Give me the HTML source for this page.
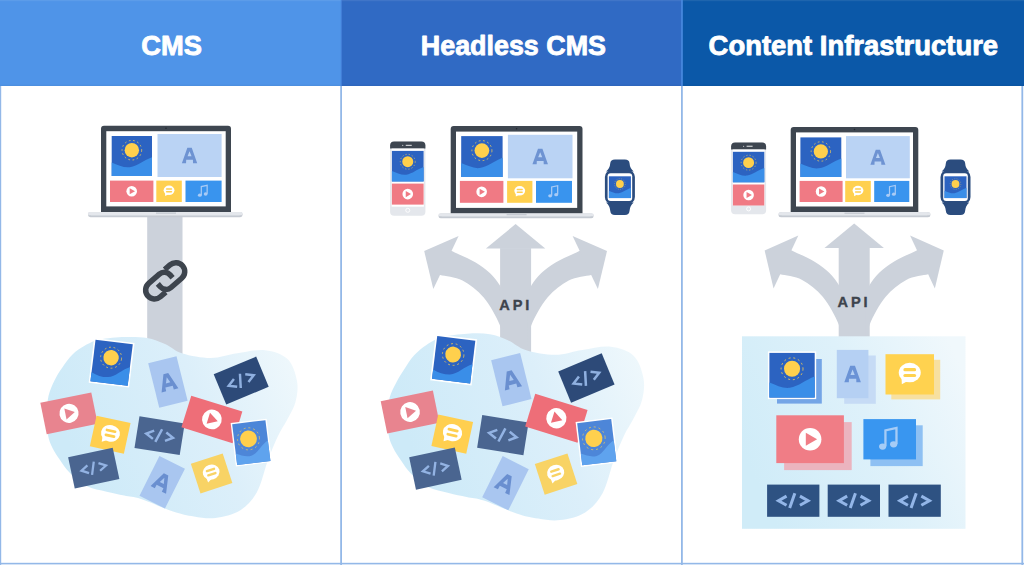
<!DOCTYPE html>
<html><head><meta charset="utf-8"><title>CMS vs Headless CMS vs Content Infrastructure</title>
<style>html,body{margin:0;padding:0;background:#fff;overflow:hidden}svg{display:block}#wrap{width:1024px;height:565px;overflow:hidden}</style></head>
<body><div id="wrap"><svg width="1024" height="565" viewBox="0 0 1024 565">
<defs>
<linearGradient id="blobg" x1="0" y1="0.3" x2="1" y2="0">
<stop offset="0" stop-color="#CDEAF8"/><stop offset="0.55" stop-color="#DCEFFA"/><stop offset="1" stop-color="#F1F9FC"/></linearGradient>
<linearGradient id="boxg" x1="0" y1="0.6" x2="1" y2="0.2">
<stop offset="0" stop-color="#D0ECF8"/><stop offset="0.55" stop-color="#DEF1FA"/><stop offset="1" stop-color="#F0F8FC"/></linearGradient>
</defs><rect width="1024" height="565" fill="#fff"/><rect x="0" y="0" width="341" height="86" fill="#4F94E8"/><rect x="341" y="0" width="341" height="86" fill="#306AC4"/><rect x="682" y="0" width="342" height="86" fill="#0B58A8"/><rect x="0" y="0" width="1024" height="1.2" fill="#fff" opacity="0.08"/><rect x="0" y="84.6" width="1024" height="1.3" fill="#000" opacity="0.035"/><rect x="340.6" y="0" width="1.4" height="86" fill="#4A87DF" opacity="0.7"/><rect x="681.2" y="0" width="1.6" height="86" fill="#4A8AE0"/><text x="141.3" y="55.3" font-size="28.4" font-family="&apos;Liberation Sans&apos;, sans-serif" font-weight="bold" fill="#fff" stroke="#fff" stroke-width="0.9" stroke-linejoin="round" textLength="60.6" lengthAdjust="spacingAndGlyphs">CMS</text><text x="420.8" y="55.2" font-size="28.4" font-family="&apos;Liberation Sans&apos;, sans-serif" font-weight="bold" fill="#fff" stroke="#fff" stroke-width="0.9" stroke-linejoin="round" textLength="185.2" lengthAdjust="spacingAndGlyphs">Headless CMS</text><text x="708.6" y="55.0" font-size="28.4" font-family="&apos;Liberation Sans&apos;, sans-serif" font-weight="bold" fill="#fff" stroke="#fff" stroke-width="0.9" stroke-linejoin="round" textLength="289.5" lengthAdjust="spacingAndGlyphs">Content Infrastructure</text><rect x="147.2" y="216" width="35.3" height="140" fill="#CCD2DB"/><path d="M101,212.4 L101,128.7 Q101,125.7 104,125.7 L228,125.7 Q231,125.7 231,128.7 L231,212.4 Z" fill="#3E4650"/><rect x="106.3" y="131.2" width="119.4" height="75.2" fill="#fff"/><rect x="88" y="212.1" width="154.6" height="5.2" rx="2.45" fill="#C5CAD2"/><rect x="88" y="212.1" width="154.6" height="3.2" rx="1.6" fill="#E4E7EC"/><rect x="91" y="212.1" width="148.6" height="3.2" fill="#E4E7EC"/><rect x="156" y="212.4" width="20" height="1.4" fill="#C5CAD2"/><circle cx="166" cy="128.3" r="0.8" fill="#22282f"/><g transform="translate(111.7,136)"><rect width="40.3" height="40" fill="#2C63C1"/><path d="M0,26.4 C6.04,28.8 12.09,32 18.13,31.2 C26.2,30 32.24,24 40.3,21.2 L40.3,40 L0,40 Z" fill="#3A8EE8"/><circle cx="20.15" cy="14.2" r="7.2" fill="#FFD04D"/><circle cx="20.15" cy="14.2" r="9.8" fill="none" stroke="#FFD04D" stroke-width="0.76" stroke-dasharray="1.71 2.57"/></g><g transform="translate(157.5,134)"><rect width="64.1" height="43" fill="#BAD3F4"/><path d="M24.39,29.16 L29.86,13.84 L34.24,13.84 L39.71,29.16 L35.53,29.16 L35.42,25.79 L28.68,25.79 L28.57,29.16 Z M30.06,22.27 L34.04,22.27 L32.05,17.21 Z" fill="#6E93D2" fill-rule="evenodd"/></g><g transform="translate(110,180.6)"><rect width="43.4" height="21.4" fill="#F07A84"/><circle cx="21.7" cy="10.7" r="5.3" fill="#fff"/><path d="M19.69,7.63 L24.99,10.7 L19.69,13.77 Z" fill="#F07A84"/></g><g transform="translate(156.3,180.6)"><rect width="25.5" height="21.4" fill="#FFD04F"/><ellipse cx="12.75" cy="9.74" rx="5.4" ry="4.75" fill="#fff"/><path d="M8.7,11.64 L8.86,15.44 L11.94,13.78 Z" fill="#fff"/><rect x="9.62" y="7.55" width="6.26" height="1.52" rx="0.76" fill="#FFD04F"/><rect x="9.62" y="10.4" width="6.26" height="1.52" rx="0.76" fill="#FFD04F"/></g><g transform="translate(185.5,180.6)"><rect width="36.1" height="21.4" fill="#3994EE"/><ellipse cx="14.3" cy="14.59" rx="1.92" ry="1.65" fill="#A9CBF5"/><ellipse cx="20.15" cy="13.41" rx="1.92" ry="1.65" fill="#A9CBF5"/><path d="M15.79,14.37 L15.79,5.96 L21.64,4.68 L21.64,13.2" fill="none" stroke="#A9CBF5" stroke-width="1.22" stroke-linejoin="miter"/></g><g transform="translate(165.2,280.8) rotate(-41)" fill="none" stroke="#3D444D" stroke-width="5.5"><path d="M-7,8.9 L-14.1,8.9 A8.9,8.9 0 0 1 -23,0 L-23,0 A8.9,8.9 0 0 1 -14.1,-8.9 L0,-8.9 A7.6,7.6 0 0 1 7.6,-1.3 L7.6,2.5"/><path d="M-7,8.9 L-14.1,8.9 A8.9,8.9 0 0 1 -23,0 L-23,0 A8.9,8.9 0 0 1 -14.1,-8.9 L0,-8.9 A7.6,7.6 0 0 1 7.6,-1.3 L7.6,2.5" transform="rotate(180)"/></g><path d="M48.5,396 C49.75,390.42 52.25,385.17 54.5,380.5 C56.75,375.83 59,372.33 62,368 C65,363.67 68.67,358.25 72.5,354.5 C76.33,350.75 80.42,348 85,345.5 C89.58,343 93.33,340.92 100,339.5 C106.67,338.08 117.17,337.25 125,337 C132.83,336.75 140.33,336.83 147,338 C153.67,339.17 159.08,341.42 165,344 C170.92,346.58 174.87,351.17 182.5,353.5 C190.13,355.83 201.67,358.03 210.8,358 C219.93,357.97 228.27,354.6 237.3,353.3 C246.33,352 256.63,349.25 265,350.2 C273.37,351.15 282.17,353.87 287.5,359 C292.83,364.13 295.67,373.83 297,381 C298.33,388.17 297.17,395.5 295.5,402 C293.83,408.5 289.92,414.33 287,420 C284.08,425.67 281.17,429.33 278,436 C274.83,442.67 271.5,450.67 268,460 C264.5,469.33 261.67,483.58 257,492 C252.33,500.42 246.92,506.17 240,510.5 C233.08,514.83 223.17,517 215.5,518 C207.83,519 201.08,517.58 194,516.5 C186.92,515.42 181.83,514.42 173,511.5 C164.17,508.58 149.13,501.65 141,499 C132.87,496.35 129.92,496.82 124.2,495.6 C118.48,494.38 112.98,493.3 106.7,491.7 C100.42,490.1 92.62,489.12 86.5,486 C80.38,482.88 74.42,477.33 70,473 C65.58,468.67 62.92,464.17 60,460 C57.08,455.83 54.5,452.17 52.5,448 C50.5,443.83 48.92,440.67 48,435 C47.08,429.33 46.92,420.5 47,414 C47.08,407.5 47.25,401.58 48.5,396 Z" fill="url(#blobg)"/><g transform="translate(111.6,362.8) rotate(7) translate(-18.75,-20.9)"><rect x="-1.6" y="-1.6" width="40.7" height="45" fill="#fff"/><rect width="37.5" height="41.8" fill="#2C63C1"/><path d="M0,32.6 C5.62,35.11 11.25,36.37 16.88,35.53 C24.38,34.28 30,25.92 37.5,22.99 L37.5,41.8 L0,41.8 Z" fill="#3A8EE8"/><circle cx="17.62" cy="15.88" r="7.69" fill="#FFD04D"/><circle cx="17.62" cy="15.88" r="10.5" fill="none" stroke="#FFD04D" stroke-width="0.71" stroke-dasharray="1.83 2.75"/></g><g transform="translate(167.9,382) rotate(-14) translate(-14.6,-22.95)"><rect width="29.2" height="45.9" fill="#A9C6F0"/><path d="M5.96,31.59 L12.13,14.31 L17.07,14.31 L23.24,31.59 L18.52,31.59 L18.4,27.79 L10.8,27.79 L10.68,31.59 Z M12.35,23.81 L16.85,23.81 L14.6,18.11 Z" fill="#6A8FD0" fill-rule="evenodd"/></g><g transform="translate(241.2,380.5) rotate(-22.6) translate(-23,-16.35)"><rect width="46" height="32.7" fill="#2D4A78"/><path d="M16.88,12.15 L9.47,16.35 L16.88,20.55 M24.46,9.59 L19.71,23.11 M29.12,12.15 L36.53,16.35 L29.12,20.55" fill="none" stroke="#8FB0E0" stroke-width="2.47" stroke-linejoin="miter" stroke-linecap="butt"/></g><g transform="translate(69,413.3) rotate(-11.5) translate(-26,-16)"><rect width="52" height="32" fill="#E8848F"/><circle cx="26" cy="16" r="9.6" fill="#fff"/><path d="M22.35,10.43 L31.95,16 L22.35,21.57 Z" fill="#E8848F"/></g><g transform="translate(159.6,435.7) rotate(9) translate(-22.9,-16)"><rect width="45.8" height="32" fill="#4A6590"/><path d="M16.77,11.79 L9.37,16 L16.77,20.21 M24.36,9.23 L19.61,22.77 M29.03,11.79 L36.43,16 L29.03,20.21" fill="none" stroke="#93B3E3" stroke-width="2.47" stroke-linejoin="miter" stroke-linecap="butt"/></g><g transform="translate(110.2,434.7) rotate(12.3) translate(-17.4,-15.7)"><rect width="34.8" height="31.4" fill="#FFCF4F"/><ellipse cx="17.4" cy="14.29" rx="9.5" ry="8.36" fill="#fff"/><path d="M10.27,17.63 L10.56,24.32 L15.97,21.39 Z" fill="#fff"/><rect x="11.89" y="10.44" width="11.02" height="2.68" rx="1.34" fill="#FFCF4F"/><rect x="11.89" y="15.46" width="11.02" height="2.68" rx="1.34" fill="#FFCF4F"/></g><g transform="translate(211.9,419.4) rotate(17.2) translate(-26.75,-16.6)"><rect width="53.5" height="33.2" fill="#EE6E78"/><circle cx="26.75" cy="16.6" r="9.9" fill="#fff"/><path d="M22.99,10.86 L32.89,16.6 L22.99,22.34 Z" fill="#EE6E78"/></g><g transform="translate(93.75,468.1) rotate(-12) translate(-22.8,-16)"><rect width="45.6" height="32" fill="#4A6590"/><path d="M17.14,12.11 L10.3,16 L17.14,19.89 M24.15,9.75 L19.76,22.25 M28.46,12.11 L35.3,16 L28.46,19.89" fill="none" stroke="#93B3E3" stroke-width="2.28" stroke-linejoin="miter" stroke-linecap="butt"/></g><g transform="translate(251.3,442.6) rotate(-7) translate(-16.75,-20.5)"><rect x="-1.4" y="-1.4" width="36.3" height="43.8" fill="#fff"/><rect width="33.5" height="41" fill="#4D86D8"/><path d="M0,29.52 C5.02,31.98 10.05,34.44 15.08,33.62 C21.78,32.39 26.8,23.37 33.5,20.5 L33.5,41 L0,41 Z" fill="#5FA3EE"/><circle cx="14.4" cy="16.4" r="8.38" fill="#FFD04D"/><circle cx="14.4" cy="16.4" r="11.05" fill="none" stroke="#FFD04D" stroke-width="0.64" stroke-dasharray="1.93 2.89"/></g><g transform="translate(211.6,473.4) rotate(-18) translate(-16.75,-15.6)"><rect width="33.5" height="31.2" fill="#F8D365"/><ellipse cx="16.75" cy="14.2" rx="8.5" ry="7.48" fill="#fff"/><path d="M10.38,17.19 L10.63,23.17 L15.47,20.55 Z" fill="#fff"/><rect x="11.82" y="10.76" width="9.86" height="2.39" rx="1.2" fill="#F8D365"/><rect x="11.82" y="15.24" width="9.86" height="2.39" rx="1.2" fill="#F8D365"/></g><g transform="translate(162.2,482.2) rotate(26.6) translate(-14.25,-22.3)"><rect width="28.5" height="44.6" fill="#A9C6F0"/><path d="M5.61,30.94 L11.78,13.66 L16.72,13.66 L22.89,30.94 L18.17,30.94 L18.05,27.14 L10.45,27.14 L10.33,30.94 Z M12,23.16 L16.5,23.16 L14.25,17.46 Z" fill="#6A8FD0" fill-rule="evenodd"/></g><rect x="500.1" y="248.1" width="31" height="107.9" fill="#CCD2DB"/><path d="M515.6,224.1 L545.3,248.6 L485.9,248.6 Z" fill="#CCD2DB"/><path d="M448.1,248.6 C448.9,249.08 448.38,249.22 452.9,251.5 C457.42,253.78 469,258.67 475.2,262.3 C481.4,265.93 486.03,269.5 490.1,273.3 C494.17,277.1 497.35,281.63 499.6,285.1 C501.85,288.57 502.93,292.6 503.6,294.1 L503.6,347.1 C502.97,343.43 503.12,333.35 499.8,325.1 C496.48,316.85 489.92,305.03 483.7,297.6 C477.48,290.17 469.75,284.28 462.5,280.5 C455.25,276.72 444.6,275.92 440.2,274.9 C435.8,273.88 436.78,274.48 436.1,274.4 Z" fill="#CCD2DB"/><path d="M458.6,236.1 L424.2,251.1 L433.3,289 Z" fill="#CCD2DB"/><path d="M583.1,248.6 C582.3,249.08 582.82,249.22 578.3,251.5 C573.78,253.78 562.2,258.67 556,262.3 C549.8,265.93 545.17,269.5 541.1,273.3 C537.03,277.1 533.85,281.63 531.6,285.1 C529.35,288.57 528.27,292.6 527.6,294.1 L527.6,347.1 C528.23,343.43 528.08,333.35 531.4,325.1 C534.72,316.85 541.28,305.03 547.5,297.6 C553.72,290.17 561.45,284.28 568.7,280.5 C575.95,276.72 586.6,275.92 591,274.9 C595.4,273.88 594.42,274.48 595.1,274.4 Z" fill="#CCD2DB"/><path d="M572.6,236.1 L607,251.1 L597.9,289 Z" fill="#CCD2DB"/><text x="499.2" y="310.1" font-size="14.6" font-family="&apos;Liberation Sans&apos;, sans-serif" font-weight="bold" fill="#3D444D" stroke="#3D444D" stroke-width="0.35" textLength="30.2" lengthAdjust="spacing">API</text><path d="M450.7,213.9 L450.7,129.1 Q450.7,126.1 453.7,126.1 L579.5,126.1 Q582.5,126.1 582.5,129.1 L582.5,213.9 Z" fill="#3E4650"/><rect x="456" y="131.6" width="121.2" height="76.3" fill="#fff"/><rect x="438.5" y="213.6" width="155.1" height="4.7" rx="2.2" fill="#C5CAD2"/><rect x="438.5" y="213.6" width="155.1" height="2.7" rx="1.35" fill="#E4E7EC"/><rect x="441.5" y="213.6" width="149.1" height="2.7" fill="#E4E7EC"/><rect x="506.6" y="213.9" width="20" height="1.4" fill="#C5CAD2"/><circle cx="516.6" cy="128.7" r="0.8" fill="#22282f"/><g transform="translate(461.2,136.1)"><rect width="41.4" height="40.9" fill="#2C63C1"/><path d="M0,26.99 C6.21,29.45 12.42,32.72 18.63,31.9 C26.91,30.68 33.12,24.54 41.4,21.68 L41.4,40.9 L0,40.9 Z" fill="#3A8EE8"/><circle cx="20.7" cy="14.52" r="7.36" fill="#FFD04D"/><circle cx="20.7" cy="14.52" r="10.02" fill="none" stroke="#FFD04D" stroke-width="0.78" stroke-dasharray="1.75 2.62"/></g><g transform="translate(507.9,134.8)"><rect width="64.6" height="43.5" fill="#BAD3F4"/><path d="M24.55,29.5 L30.08,14 L34.52,14 L40.05,29.5 L35.82,29.5 L35.71,26.09 L28.89,26.09 L28.78,29.5 Z M30.28,22.53 L34.32,22.53 L32.3,17.41 Z" fill="#6E93D2" fill-rule="evenodd"/></g><g transform="translate(459.9,180.9)"><rect width="43.5" height="21.9" fill="#F07A84"/><circle cx="21.75" cy="10.95" r="5.3" fill="#fff"/><path d="M19.74,7.88 L25.04,10.95 L19.74,14.02 Z" fill="#F07A84"/></g><g transform="translate(507.1,180.9)"><rect width="25.3" height="21.9" fill="#FFD04F"/><ellipse cx="12.65" cy="9.96" rx="5.4" ry="4.75" fill="#fff"/><path d="M8.6,11.87 L8.76,15.67 L11.84,14 Z" fill="#fff"/><rect x="9.52" y="7.78" width="6.26" height="1.52" rx="0.76" fill="#FFD04F"/><rect x="9.52" y="10.63" width="6.26" height="1.52" rx="0.76" fill="#FFD04F"/></g><g transform="translate(536,180.9)"><rect width="36" height="21.9" fill="#3994EE"/><ellipse cx="14.16" cy="14.93" rx="1.96" ry="1.69" fill="#A9CBF5"/><ellipse cx="20.15" cy="13.73" rx="1.96" ry="1.69" fill="#A9CBF5"/><path d="M15.68,14.71 L15.68,6.1 L21.68,4.79 L21.68,13.51" fill="none" stroke="#A9CBF5" stroke-width="1.25" stroke-linejoin="miter"/></g><rect x="390.1" y="141.6" width="35.3" height="74.1" rx="4" fill="#E4E7EC"/><path d="M390.1,148.6 L390.1,145.6 Q390.1,141.6 394.1,141.6 L421.4,141.6 Q425.4,141.6 425.4,145.6 L425.4,148.6 Z" fill="#3E4650"/><rect x="405.75" y="144.8" width="6" height="1.1" fill="#fff" opacity="0.8"/><circle cx="402.75" cy="145.35" r="0.6" fill="#fff" opacity="0.8"/><rect x="391.6" y="148.6" width="32.3" height="58.1" fill="#fff"/><g transform="translate(391.9,150.9)"><rect width="31.7" height="30.5" fill="#2C63C1"/><path d="M0,20.13 C4.75,21.96 9.51,24.4 14.26,23.79 C20.6,22.88 25.36,18.3 31.7,16.16 L31.7,30.5 L0,30.5 Z" fill="#3A8EE8"/><circle cx="15.85" cy="10.83" r="5.49" fill="#FFD04D"/><circle cx="15.85" cy="10.83" r="7.47" fill="none" stroke="#FFD04D" stroke-width="0.58" stroke-dasharray="1.3 1.96"/></g><g transform="translate(391.9,183.6)"><rect width="31.7" height="21" fill="#F07A84"/><circle cx="15.85" cy="10.5" r="5.3" fill="#fff"/><path d="M13.84,7.43 L19.14,10.5 L13.84,13.57 Z" fill="#F07A84"/></g><circle cx="407.75" cy="210.3" r="2" fill="none" stroke="#fff" stroke-width="0.9"/><path d="M614.9,159.5 L624.9,159.5 Q629.2,159.5 629.5,163 Q629.9,168.5 633.7,171.5 L606.1,171.5 Q609.9,168.5 610.3,163 Q610.6,159.5 614.9,159.5 Z" fill="#2B4C7E"/><path d="M606.1,202.5 L633.7,202.5 Q629.9,205.5 629.5,211 Q629.2,215 624.9,215 L614.9,215 Q610.6,215 610.3,211 Q609.9,205.5 606.1,202.5 Z" fill="#2B4C7E"/><rect x="604.9" y="170" width="30" height="34" rx="7" fill="#2B4C7E"/><rect x="607.6" y="173.2" width="24.6" height="27.8" rx="3" fill="#fff"/><g transform="translate(608.9,176.3)"><rect width="22" height="21.8" fill="#2C63C1"/><path d="M0,14.39 C3.3,15.7 6.6,17.44 9.9,17 C14.3,16.35 17.6,13.08 22,11.55 L22,21.8 L0,21.8 Z" fill="#3A8EE8"/><circle cx="11" cy="7.74" r="3.92" fill="#FFD04D"/><circle cx="11" cy="7.74" r="5.34" fill="none" stroke="#FFD04D" stroke-width="0.41" stroke-dasharray="0.93 1.4"/></g><g transform="translate(339.4,-14.97) scale(1.024,1.033)"><path d="M49.3,398.5 C50.75,393.58 53.42,388.83 55.7,384.5 C57.98,380.17 60.12,376.83 63,372.5 C65.88,368.17 69.33,362.5 73,358.5 C76.67,354.5 80.5,351.42 85,348.5 C89.5,345.58 93.33,342.83 100,341 C106.67,339.17 117.17,338 125,337.5 C132.83,337 140.33,336.92 147,338 C153.67,339.08 159.08,341.42 165,344 C170.92,346.58 174.87,351.17 182.5,353.5 C190.13,355.83 201.67,358.03 210.8,358 C219.93,357.97 228.27,354.6 237.3,353.3 C246.33,352 256.63,349.25 265,350.2 C273.37,351.15 282.17,353.87 287.5,359 C292.83,364.13 295.67,373.83 297,381 C298.33,388.17 297.17,395.5 295.5,402 C293.83,408.5 289.92,414.33 287,420 C284.08,425.67 281.17,429.33 278,436 C274.83,442.67 271.5,450.67 268,460 C264.5,469.33 261.67,483.58 257,492 C252.33,500.42 246.92,506.17 240,510.5 C233.08,514.83 223.17,517 215.5,518 C207.83,519 201.08,517.58 194,516.5 C186.92,515.42 181.83,514.42 173,511.5 C164.17,508.58 149.13,501.65 141,499 C132.87,496.35 129.92,496.82 124.2,495.6 C118.48,494.38 112.98,493.3 106.7,491.7 C100.42,490.1 92.62,489.12 86.5,486 C80.38,482.88 74.42,477.33 70,473 C65.58,468.67 62.92,464.17 60,460 C57.08,455.83 54.5,452.17 52.5,448 C50.5,443.83 48.92,440.67 48,435 C47.08,429.33 46.78,420.08 47,414 C47.22,407.92 47.85,403.42 49.3,398.5 Z" fill="url(#blobg)"/><g transform="translate(111.6,362.8) rotate(7) translate(-18.75,-20.9)"><rect x="-1.6" y="-1.6" width="40.7" height="45" fill="#fff"/><rect width="37.5" height="41.8" fill="#2C63C1"/><path d="M0,32.6 C5.62,35.11 11.25,36.37 16.88,35.53 C24.38,34.28 30,25.92 37.5,22.99 L37.5,41.8 L0,41.8 Z" fill="#3A8EE8"/><circle cx="17.62" cy="15.88" r="7.69" fill="#FFD04D"/><circle cx="17.62" cy="15.88" r="10.5" fill="none" stroke="#FFD04D" stroke-width="0.71" stroke-dasharray="1.83 2.75"/></g><g transform="translate(167.9,382) rotate(-14) translate(-14.6,-22.95)"><rect width="29.2" height="45.9" fill="#A9C6F0"/><path d="M5.96,31.59 L12.13,14.31 L17.07,14.31 L23.24,31.59 L18.52,31.59 L18.4,27.79 L10.8,27.79 L10.68,31.59 Z M12.35,23.81 L16.85,23.81 L14.6,18.11 Z" fill="#6A8FD0" fill-rule="evenodd"/></g><g transform="translate(241.2,380.5) rotate(-22.6) translate(-23,-16.35)"><rect width="46" height="32.7" fill="#2D4A78"/><path d="M16.88,12.15 L9.47,16.35 L16.88,20.55 M24.46,9.59 L19.71,23.11 M29.12,12.15 L36.53,16.35 L29.12,20.55" fill="none" stroke="#8FB0E0" stroke-width="2.47" stroke-linejoin="miter" stroke-linecap="butt"/></g><g transform="translate(69,413.3) rotate(-11.5) translate(-26,-16)"><rect width="52" height="32" fill="#E8848F"/><circle cx="26" cy="16" r="9.6" fill="#fff"/><path d="M22.35,10.43 L31.95,16 L22.35,21.57 Z" fill="#E8848F"/></g><g transform="translate(159.6,435.7) rotate(9) translate(-22.9,-16)"><rect width="45.8" height="32" fill="#4A6590"/><path d="M16.77,11.79 L9.37,16 L16.77,20.21 M24.36,9.23 L19.61,22.77 M29.03,11.79 L36.43,16 L29.03,20.21" fill="none" stroke="#93B3E3" stroke-width="2.47" stroke-linejoin="miter" stroke-linecap="butt"/></g><g transform="translate(110.2,434.7) rotate(12.3) translate(-17.4,-15.7)"><rect width="34.8" height="31.4" fill="#FFCF4F"/><ellipse cx="17.4" cy="14.29" rx="9.5" ry="8.36" fill="#fff"/><path d="M10.27,17.63 L10.56,24.32 L15.97,21.39 Z" fill="#fff"/><rect x="11.89" y="10.44" width="11.02" height="2.68" rx="1.34" fill="#FFCF4F"/><rect x="11.89" y="15.46" width="11.02" height="2.68" rx="1.34" fill="#FFCF4F"/></g><g transform="translate(211.9,419.4) rotate(17.2) translate(-26.75,-16.6)"><rect width="53.5" height="33.2" fill="#EE6E78"/><circle cx="26.75" cy="16.6" r="9.9" fill="#fff"/><path d="M22.99,10.86 L32.89,16.6 L22.99,22.34 Z" fill="#EE6E78"/></g><g transform="translate(93.75,468.1) rotate(-12) translate(-22.8,-16)"><rect width="45.6" height="32" fill="#4A6590"/><path d="M17.14,12.11 L10.3,16 L17.14,19.89 M24.15,9.75 L19.76,22.25 M28.46,12.11 L35.3,16 L28.46,19.89" fill="none" stroke="#93B3E3" stroke-width="2.28" stroke-linejoin="miter" stroke-linecap="butt"/></g><g transform="translate(251.3,442.6) rotate(-7) translate(-16.75,-20.5)"><rect x="-1.4" y="-1.4" width="36.3" height="43.8" fill="#fff"/><rect width="33.5" height="41" fill="#4D86D8"/><path d="M0,29.52 C5.02,31.98 10.05,34.44 15.08,33.62 C21.78,32.39 26.8,23.37 33.5,20.5 L33.5,41 L0,41 Z" fill="#5FA3EE"/><circle cx="14.4" cy="16.4" r="8.38" fill="#FFD04D"/><circle cx="14.4" cy="16.4" r="11.05" fill="none" stroke="#FFD04D" stroke-width="0.64" stroke-dasharray="1.93 2.89"/></g><g transform="translate(211.6,473.4) rotate(-18) translate(-16.75,-15.6)"><rect width="33.5" height="31.2" fill="#F8D365"/><ellipse cx="16.75" cy="14.2" rx="8.5" ry="7.48" fill="#fff"/><path d="M10.38,17.19 L10.63,23.17 L15.47,20.55 Z" fill="#fff"/><rect x="11.82" y="10.76" width="9.86" height="2.39" rx="1.2" fill="#F8D365"/><rect x="11.82" y="15.24" width="9.86" height="2.39" rx="1.2" fill="#F8D365"/></g><g transform="translate(162.2,482.2) rotate(26.6) translate(-14.25,-22.3)"><rect width="28.5" height="44.6" fill="#A9C6F0"/><path d="M5.61,30.94 L11.78,13.66 L16.72,13.66 L22.89,30.94 L18.17,30.94 L18.05,27.14 L10.45,27.14 L10.33,30.94 Z M12,23.16 L16.5,23.16 L14.25,17.46 Z" fill="#6A8FD0" fill-rule="evenodd"/></g></g><rect x="838.7" y="247.5" width="31" height="92.5" fill="#CCD2DB"/><path d="M854.2,223.5 L883.9,248 L824.5,248 Z" fill="#CCD2DB"/><path d="M788.05,248 C788.83,248.48 788.33,248.62 792.75,250.9 C797.18,253.18 808.53,258.07 814.61,261.7 C820.68,265.33 825.22,268.9 829.21,272.7 C833.2,276.5 836.32,281.03 838.52,284.5 C840.73,287.97 841.79,292 842.44,293.5 L842.44,346.5 C841.82,342.83 841.97,332.75 838.72,324.5 C835.47,316.25 829.03,304.43 822.94,297 C816.85,289.57 809.27,283.68 802.16,279.9 C795.06,276.12 784.62,275.32 780.31,274.3 C776,273.28 776.96,273.88 776.29,273.8 Z" fill="#CCD2DB"/><path d="M798.34,235.5 L764.63,250.5 L773.55,288.4 Z" fill="#CCD2DB"/><path d="M920.35,248 C919.57,248.48 920.07,248.62 915.65,250.9 C911.22,253.18 899.87,258.07 893.79,261.7 C887.72,265.33 883.18,268.9 879.19,272.7 C875.2,276.5 872.09,281.03 869.88,284.5 C867.67,287.97 866.61,292 865.96,293.5 L865.96,346.5 C866.58,342.83 866.43,332.75 869.68,324.5 C872.93,316.25 879.37,304.43 885.46,297 C891.55,289.57 899.13,283.68 906.24,279.9 C913.34,276.12 923.78,275.32 928.09,274.3 C932.4,273.28 931.44,273.88 932.11,273.8 Z" fill="#CCD2DB"/><path d="M910.06,235.5 L943.77,250.5 L934.85,288.4 Z" fill="#CCD2DB"/><text x="837.5" y="307.2" font-size="14.6" font-family="&apos;Liberation Sans&apos;, sans-serif" font-weight="bold" fill="#3D444D" stroke="#3D444D" stroke-width="0.35" textLength="30.0" lengthAdjust="spacing">API</text><path d="M790.7,212.5 L790.7,129.9 Q790.7,126.9 793.7,126.9 L915.3,126.9 Q918.3,126.9 918.3,129.9 L918.3,212.5 Z" fill="#3E4650"/><rect x="796" y="132.4" width="117" height="74.1" fill="#fff"/><rect x="778.5" y="212.2" width="151.9" height="5.1" rx="2.4" fill="#C5CAD2"/><rect x="778.5" y="212.2" width="151.9" height="3.1" rx="1.55" fill="#E4E7EC"/><rect x="781.5" y="212.2" width="145.9" height="3.1" fill="#E4E7EC"/><rect x="844.5" y="212.5" width="20" height="1.4" fill="#C5CAD2"/><circle cx="854.5" cy="129.5" r="0.8" fill="#22282f"/><g transform="translate(800.4,137.4)"><rect width="40.9" height="39.6" fill="#2C63C1"/><path d="M0,26.14 C6.13,28.51 12.27,31.68 18.4,30.89 C26.58,29.7 32.72,23.76 40.9,20.99 L40.9,39.6 L0,39.6 Z" fill="#3A8EE8"/><circle cx="20.45" cy="14.06" r="7.13" fill="#FFD04D"/><circle cx="20.45" cy="14.06" r="9.7" fill="none" stroke="#FFD04D" stroke-width="0.75" stroke-dasharray="1.69 2.54"/></g><g transform="translate(846,136.1)"><rect width="63.8" height="42.2" fill="#BAD3F4"/><path d="M24.38,28.62 L29.75,13.58 L34.05,13.58 L39.42,28.62 L35.31,28.62 L35.21,25.31 L28.59,25.31 L28.49,28.62 Z M29.94,21.85 L33.86,21.85 L31.9,16.89 Z" fill="#6E93D2" fill-rule="evenodd"/></g><g transform="translate(799.6,180.9)"><rect width="43" height="21.1" fill="#F07A84"/><circle cx="21.5" cy="10.55" r="5.3" fill="#fff"/><path d="M19.49,7.48 L24.79,10.55 L19.49,13.62 Z" fill="#F07A84"/></g><g transform="translate(845.2,180.9)"><rect width="25.6" height="21.1" fill="#FFD04F"/><ellipse cx="12.8" cy="9.6" rx="5.4" ry="4.75" fill="#fff"/><path d="M8.75,11.5 L8.91,15.3 L11.99,13.64 Z" fill="#fff"/><rect x="9.67" y="7.41" width="6.26" height="1.52" rx="0.76" fill="#FFD04F"/><rect x="9.67" y="10.27" width="6.26" height="1.52" rx="0.76" fill="#FFD04F"/></g><g transform="translate(874.2,180.9)"><rect width="35.1" height="21.1" fill="#3994EE"/><ellipse cx="13.85" cy="14.38" rx="1.89" ry="1.63" fill="#A9CBF5"/><ellipse cx="19.62" cy="13.23" rx="1.89" ry="1.63" fill="#A9CBF5"/><path d="M15.32,14.17 L15.32,5.88 L21.09,4.62 L21.09,13.02" fill="none" stroke="#A9CBF5" stroke-width="1.21" stroke-linejoin="miter"/></g><rect x="731.1" y="142.5" width="35" height="71.8" rx="4" fill="#E4E7EC"/><path d="M731.1,149.5 L731.1,146.5 Q731.1,142.5 735.1,142.5 L762.1,142.5 Q766.1,142.5 766.1,146.5 L766.1,149.5 Z" fill="#3E4650"/><rect x="746.6" y="145.7" width="6" height="1.1" fill="#fff" opacity="0.8"/><circle cx="743.6" cy="146.25" r="0.6" fill="#fff" opacity="0.8"/><rect x="732.6" y="149.5" width="32" height="55.8" fill="#fff"/><g transform="translate(732.9,151.8)"><rect width="31.4" height="30.5" fill="#2C63C1"/><path d="M0,20.13 C4.71,21.96 9.42,24.4 14.13,23.79 C20.41,22.88 25.12,18.3 31.4,16.16 L31.4,30.5 L0,30.5 Z" fill="#3A8EE8"/><circle cx="15.7" cy="10.83" r="5.49" fill="#FFD04D"/><circle cx="15.7" cy="10.83" r="7.47" fill="none" stroke="#FFD04D" stroke-width="0.58" stroke-dasharray="1.3 1.96"/></g><g transform="translate(732.9,184.5)"><rect width="31.4" height="21" fill="#F07A84"/><circle cx="15.7" cy="10.5" r="5.3" fill="#fff"/><path d="M13.69,7.43 L18.99,10.5 L13.69,13.57 Z" fill="#F07A84"/></g><circle cx="748.6" cy="208.9" r="2" fill="none" stroke="#fff" stroke-width="0.9"/><path d="M950.5,159.5 L960.5,159.5 Q964.8,159.5 965.1,163 Q965.5,168.5 969.3,171.5 L941.7,171.5 Q945.5,168.5 945.9,163 Q946.2,159.5 950.5,159.5 Z" fill="#2B4C7E"/><path d="M941.7,202.5 L969.3,202.5 Q965.5,205.5 965.1,211 Q964.8,215 960.5,215 L950.5,215 Q946.2,215 945.9,211 Q945.5,205.5 941.7,202.5 Z" fill="#2B4C7E"/><rect x="940.5" y="170" width="30" height="34" rx="7" fill="#2B4C7E"/><rect x="943.2" y="173.2" width="24.6" height="27.8" rx="3" fill="#fff"/><g transform="translate(944.5,176.3)"><rect width="22" height="21.8" fill="#2C63C1"/><path d="M0,14.39 C3.3,15.7 6.6,17.44 9.9,17 C14.3,16.35 17.6,13.08 22,11.55 L22,21.8 L0,21.8 Z" fill="#3A8EE8"/><circle cx="11" cy="7.74" r="3.92" fill="#FFD04D"/><circle cx="11" cy="7.74" r="5.34" fill="none" stroke="#FFD04D" stroke-width="0.41" stroke-dasharray="0.93 1.4"/></g><rect x="742" y="336.3" width="223.5" height="192.5" fill="url(#boxg)"/><rect x="777" y="359" width="44.8" height="44.6" fill="#74A5E6"/><g transform="translate(769.4,352.9)"><rect x="-1.5" y="-1.5" width="48.3" height="47.7" fill="#fff"/><rect width="45.3" height="44.7" fill="#2C63C1"/><path d="M0,29.5 C6.79,32.18 13.59,35.76 20.38,34.87 C29.45,33.53 36.24,26.82 45.3,23.69 L45.3,44.7 L0,44.7 Z" fill="#3A8EE8"/><circle cx="22.65" cy="15.87" r="8.05" fill="#FFD04D"/><circle cx="22.65" cy="15.87" r="10.95" fill="none" stroke="#FFD04D" stroke-width="0.85" stroke-dasharray="1.91 2.87"/></g><rect x="844.2" y="355.5" width="31.6" height="48.3" fill="#C6DBF5"/><g transform="translate(836.8,349.9)"><rect width="31.6" height="48.3" fill="#B5D0F3"/><path d="M7.52,32.43 L13.43,15.87 L18.17,15.87 L24.08,32.43 L19.56,32.43 L19.44,28.79 L12.16,28.79 L12.04,32.43 Z M13.65,24.98 L17.95,24.98 L15.8,19.51 Z" fill="#6B93D6" fill-rule="evenodd"/></g><rect x="891.3" y="359.8" width="48.9" height="39.6" fill="#F7E0A0"/><g transform="translate(885.5,354.2)"><rect width="48.5" height="40.3" fill="#FFD24F"/><ellipse cx="24.25" cy="18.34" rx="11" ry="9.68" fill="#fff"/><path d="M16,22.21 L16.33,29.95 L22.6,26.56 Z" fill="#fff"/><rect x="17.87" y="13.88" width="12.76" height="3.1" rx="1.55" fill="#FFD24F"/><rect x="17.87" y="19.69" width="12.76" height="3.1" rx="1.55" fill="#FFD24F"/></g><rect x="784.1" y="422.1" width="67.6" height="48" fill="#EBB4BF"/><g transform="translate(776.3,415.3)"><rect width="67.6" height="47.8" fill="#F07D86"/><circle cx="33.8" cy="23.9" r="11.3" fill="#fff"/><path d="M29.51,17.35 L40.81,23.9 L29.51,30.45 Z" fill="#F07D86"/></g><rect x="870.4" y="425.3" width="52.3" height="40.8" fill="#8EC0F3"/><g transform="translate(863.4,419.1)"><rect width="52.6" height="40.3" fill="#3996F0"/><ellipse cx="19.23" cy="27.47" rx="3.61" ry="3.11" fill="#A6CCF6"/><ellipse cx="30.26" cy="25.26" rx="3.61" ry="3.11" fill="#A6CCF6"/><path d="M22.04,27.07 L22.04,11.23 L33.07,8.82 L33.07,24.86" fill="none" stroke="#A6CCF6" stroke-width="2.31" stroke-linejoin="miter"/></g><g transform="translate(767.1,484.6)"><rect width="52.3" height="32.2" fill="#2E5282"/><path d="M19.45,11.5 L11.35,16.1 L19.45,20.7 M27.75,8.7 L22.55,23.5 M32.85,11.5 L40.95,16.1 L32.85,20.7" fill="none" stroke="#93B6E8" stroke-width="3" stroke-linejoin="miter" stroke-linecap="butt"/></g><g transform="translate(827.7,484.6)"><rect width="52.3" height="32.2" fill="#2E5282"/><path d="M19.45,11.5 L11.35,16.1 L19.45,20.7 M27.75,8.7 L22.55,23.5 M32.85,11.5 L40.95,16.1 L32.85,20.7" fill="none" stroke="#93B6E8" stroke-width="3" stroke-linejoin="miter" stroke-linecap="butt"/></g><g transform="translate(888.5,484.6)"><rect width="52.3" height="32.2" fill="#2E5282"/><path d="M19.45,11.5 L11.35,16.1 L19.45,20.7 M27.75,8.7 L22.55,23.5 M32.85,11.5 L40.95,16.1 L32.85,20.7" fill="none" stroke="#93B6E8" stroke-width="3" stroke-linejoin="miter" stroke-linecap="butt"/></g><rect x="0" y="86" width="1.2" height="479" fill="#93B8E8"/><rect x="340.2" y="86" width="1.8" height="479" fill="#93B8E8"/><rect x="681" y="86" width="1.8" height="479" fill="#93B8E8"/><rect x="1021.4" y="86" width="1.8" height="479" fill="#93B8E8"/><rect x="0" y="562.8" width="1024" height="1.6" fill="#93B8E8"/>
</svg></div></body></html>
